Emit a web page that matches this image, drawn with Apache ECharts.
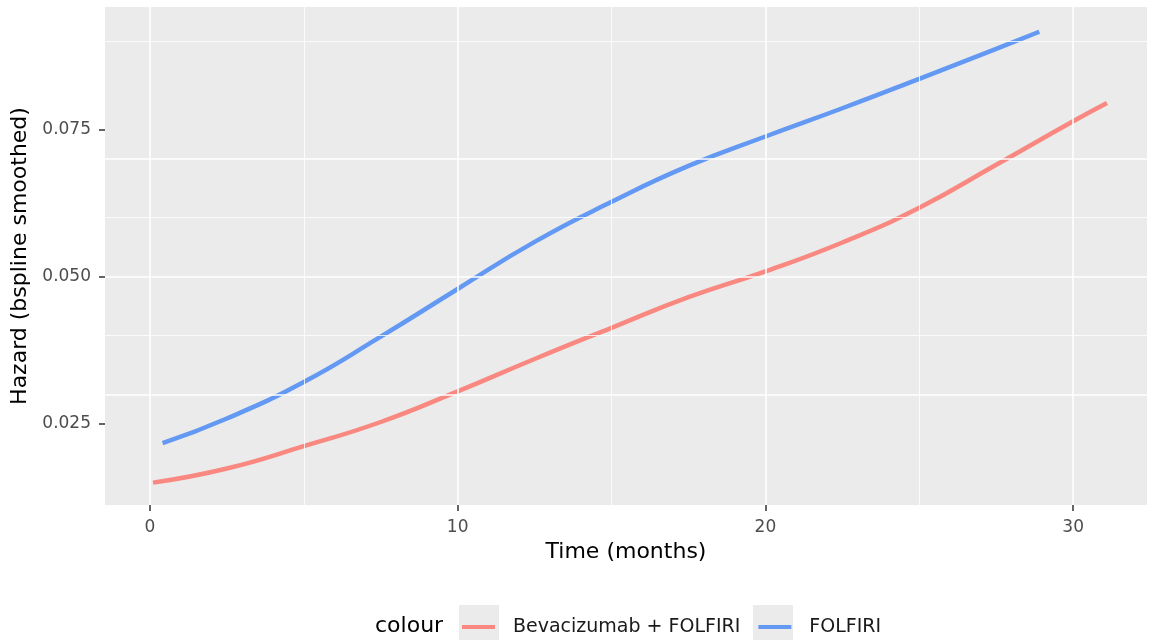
<!DOCTYPE html>
<html>
<head>
<meta charset="utf-8">
<script src="https://cdn.jsdelivr.net/npm/echarts@6/dist/echarts.min.js"></script>
<style>
  html, body { margin: 0; padding: 0; background: #fff; }
  #chart { width: 1149px; height: 640px; }
</style>
</head>
<body>
<div id="chart"></div>
<script>
// Smoothed hazard estimates over time, per treatment arm
const seriesNames = ['Bevacizumab + FOLFIRI', 'FOLFIRI'];

const bevTime   = [0.1, 2.5, 5, 7.5, 10, 12.5, 15, 17.5, 20, 22.5, 25, 27.5, 30, 31.1];
const bevHazard = [0.0150, 0.0174, 0.0212, 0.0253, 0.0305, 0.0360, 0.0413, 0.0465, 0.0509, 0.0558, 0.0617, 0.0690, 0.0764, 0.0795];

const folTime   = [0.41, 2.5, 5, 7.5, 10, 12.5, 15, 17.5, 20, 22.5, 25, 27.5, 28.9];
const folHazard = [0.0217, 0.0259, 0.0321, 0.0398, 0.0479, 0.0559, 0.0627, 0.0688, 0.0738, 0.0786, 0.0836, 0.0887, 0.0916];

// Axis breaks
const xMajor = [0, 10, 20, 30];
const xMinor = [5, 15, 25];
const yMajor = [0.025, 0.050, 0.075];
const yMinor = [0.0125, 0.0375, 0.0625, 0.0875];
const yLabels = ['0.025', '0.050', '0.075'];

const xRange = [-1.46, 32.4];
const yRange = [0.0112, 0.0958];

const FONT = 'DejaVu Sans';
const colors = ['#F98880', '#6399F2'];

const pair = (xs, ys) => xs.map((x, i) => [x, ys[i]]);

const gridLines = [];
xMinor.forEach(v => gridLines.push({ xAxis: v, lineStyle: { width: 0.8 } }));
yMinor.forEach(v => gridLines.push({ yAxis: v, lineStyle: { width: 0.8 } }));
xMajor.forEach(v => gridLines.push({ xAxis: v, lineStyle: { width: 1.6 } }));
yMajor.forEach(v => gridLines.push({ yAxis: v, lineStyle: { width: 1.6 } }));

const chart = echarts.init(document.getElementById('chart'), null, { renderer: 'canvas' });

chart.setOption({
  animation: false,
  grid: {
    left: 105, right: 2, top: 7, bottom: 135,
    outerBoundsMode: 'none',
    containLabel: false,
    show: true, backgroundColor: '#EBEBEB', borderWidth: 0
  },
  xAxis: {
    type: 'value',
    min: xRange[0], max: xRange[1],
    name: 'Time (months)',
    nameLocation: 'middle',
    nameGap: 36,
    nameTextStyle: { fontFamily: FONT, fontSize: 22, color: '#000' },
    axisLine: { show: false, onZero: false },
    splitLine: { show: false },
    axisTick: { show: true, length: 6, customValues: xMajor, lineStyle: { color: '#333', width: 1.5 } },
    axisLabel: { customValues: xMajor, margin: 14, fontFamily: FONT, fontSize: 17, color: '#4D4D4D' }
  },
  yAxis: {
    type: 'value',
    min: yRange[0], max: yRange[1],
    name: 'Hazard (bspline smoothed)',
    nameLocation: 'middle',
    nameGap: 67,
    nameTextStyle: { fontFamily: FONT, fontSize: 22, color: '#000' },
    axisLine: { show: false, onZero: false },
    splitLine: { show: false },
    axisTick: { show: true, length: 6, customValues: yMajor, lineStyle: { color: '#333', width: 1.5 } },
    axisLabel: {
      customValues: yMajor, margin: 14, fontFamily: FONT, fontSize: 17, color: '#4D4D4D',
      formatter: v => yLabels[yMajor.findIndex(m => Math.abs(m - v) < 1e-9)] ?? v.toFixed(3)
    }
  },
  legend: {
    data: seriesNames,
    left: 462, top: 616, padding: 0,
    icon: 'rect', itemWidth: 33, itemHeight: 4, itemGap: 18,
    textStyle: { fontFamily: FONT, fontSize: 19, color: '#1A1A1A', lineHeight: 22, padding: [0, 0, 0, 13] }
  },
  graphic: [
    { type: 'text', left: 375, top: 615, style: { text: 'colour', font: '22px "DejaVu Sans"', fill: '#000' } },
    { type: 'rect', shape: { x: 459, y: 605, width: 40, height: 40 }, style: { fill: '#EBEBEB' }, z: -1 },
    { type: 'rect', shape: { x: 753, y: 605, width: 40, height: 40 }, style: { fill: '#EBEBEB' }, z: -1 }
  ],
  series: [
    {
      name: 'grid', type: 'line', data: [], z: 1, silent: true,
      markLine: {
        silent: true, symbol: 'none', label: { show: false },
        lineStyle: { color: '#FFFFFF', type: 'solid' },
        data: gridLines
      }
    },
    {
      name: seriesNames[0], type: 'line', z: 3,
      data: pair(bevTime, bevHazard),
      smooth: 0.5, showSymbol: false,
      lineStyle: { color: colors[0], width: 4.5, cap: 'butt' },
      itemStyle: { color: colors[0] }
    },
    {
      name: seriesNames[1], type: 'line', z: 3,
      data: pair(folTime, folHazard),
      smooth: 0.5, showSymbol: false,
      lineStyle: { color: colors[1], width: 4.5, cap: 'butt' },
      itemStyle: { color: colors[1] }
    }
  ]
});
</script>
</body>
</html>
